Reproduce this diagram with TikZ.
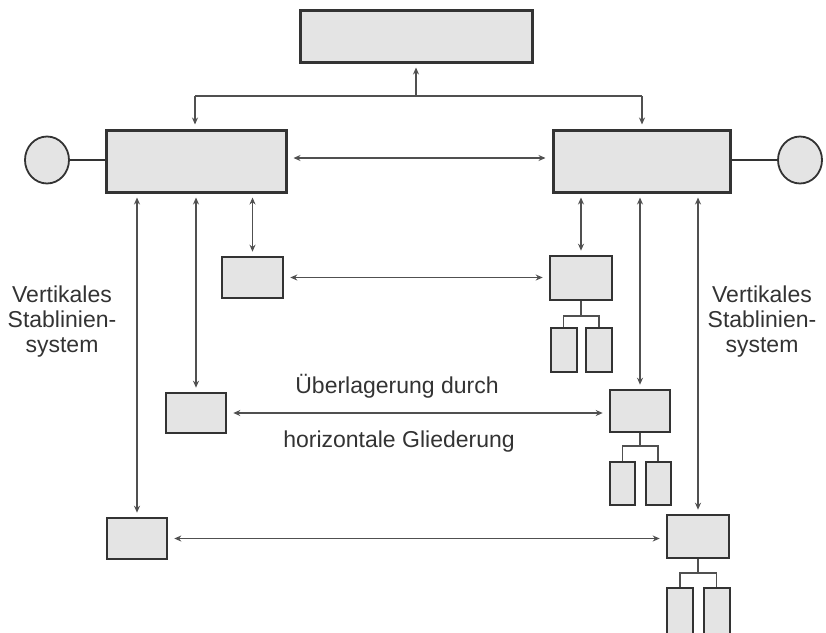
\documentclass[tikz,border=0pt]{standalone}
\usepackage{fontspec}
\setmainfont{Liberation Sans}
\usetikzlibrary{arrows.meta,shapes.geometric}
\definecolor{boxfill}{HTML}{E4E4E4}
\definecolor{boxline}{HTML}{333333}
\definecolor{conline}{HTML}{505050}
\definecolor{txt}{HTML}{333333}
\begin{document}
\begin{tikzpicture}[x=1pt,y=-1pt,
  bigbox/.style={draw=boxline,line width=3pt,fill=boxfill,inner sep=0pt,minimum width=#1},
  smallbox/.style={draw=boxline,line width=2.6pt,fill=boxfill,inner sep=0pt},
  childbox/.style={draw=boxline,line width=2pt,fill=boxfill,inner sep=0pt,minimum width=26pt,minimum height=44pt},
  con/.style={draw=conline,line width=1.4pt},
  arr/.style={con,{Stealth[length=7pt,width=6pt]}-{Stealth[length=7pt,width=6pt]},shorten >=4pt,shorten <=4pt},
  arrone/.style={con,-{Stealth[length=7pt,width=6pt]},shorten >=4pt},
  lbl/.style={text=txt,font=\fontsize{23}{25}\selectfont,inner sep=0pt,align=center,anchor=base}]
\useasboundingbox (0,0) rectangle (826,632);
\clip (0,0) rectangle (826,632);
\fill[white] (0,0) rectangle (826,632);
% main boxes
\node[bigbox=232pt,minimum height=52pt] (top) at (416,36) {};
\node[bigbox=180pt,minimum height=62pt] (LM) at (196,161) {};
\node[bigbox=177pt,minimum height=62pt] (RM) at (641.5,161) {};
% circles
\node[ellipse,draw=boxline,line width=1.8pt,fill=boxfill,minimum width=44pt,minimum height=47pt,inner sep=0pt] (LC) at (47,160) {};
\node[ellipse,draw=boxline,line width=1.8pt,fill=boxfill,minimum width=44pt,minimum height=47pt,inner sep=0pt] (RC) at (800,160) {};
\draw[draw=boxline,line width=2pt] (LC.east) -- (LM.west |- LC.east);
\draw[draw=boxline,line width=2pt] (RC.west) -- (RM.east |- RC.west);
% small boxes
\node[smallbox,minimum width=61pt,minimum height=41pt] (B1) at (252.5,277.5) {};
\node[smallbox,minimum width=60pt,minimum height=40pt] (B2) at (196,413) {};
\node[smallbox,minimum width=60pt,minimum height=41pt] (B3) at (137,538.5) {};
\node[smallbox,minimum width=62pt,minimum height=44pt] (R1) at (581,278) {};
\node[smallbox,minimum width=60pt,minimum height=42pt] (R2) at (640,411) {};
\node[smallbox,minimum width=62pt,minimum height=43pt] (R3) at (698,536.5) {};
% children
\node[childbox] (R1a) at (563.5,350) {};
\node[childbox] (R1b) at (599,350) {};
\node[childbox,minimum width=25pt,minimum height=43pt] (R2a) at (622.5,483.5) {};
\node[childbox,minimum width=25pt,minimum height=43pt] (R2b) at (658,483.5) {};
\node[childbox,minimum height=50pt] (R3a) at (680,613) {};
\node[childbox,minimum height=50pt] (R3b) at (716.5,613) {};
\draw[con] (R1.south) -- (R1.south |- 0,316) coordinate (R1j);
\draw[con] (R1a.north) |- (R1j) -| (R1b.north);
\draw[con] (R2.south) -- (R2.south |- 0,446) coordinate (R2j);
\draw[con] (R2a.north) |- (R2j) -| (R2b.north);
\draw[con] (R3.south) -- (R3.south |- 0,573) coordinate (R3j);
\draw[con] (R3a.north) |- (R3j) -| (R3b.north);
% top connections
\coordinate (J) at (top.south |- 0,96);
\coordinate (JL) at (LM.north -| 195,0);
\coordinate (JR) at (RM.north -| 642,0);
\draw[arrone] (J) -- (top.south);
\draw[con] (JL |- J) -- (JR |- J);
\draw[arrone] (JL |- J) -- (JL);
\draw[arrone] (JR |- J) -- (JR);
% main horizontal
\draw[arr,shorten >=6pt,shorten <=6pt] (LM.east |- 0,158) -- (RM.west |- 0,158);
% verticals
\draw[arr] (LM.south -| B1.north) -- (B1.north);
\draw[arr] (LM.south -| B2.north) -- (B2.north);
\draw[arr] (LM.south -| B3.north) -- (B3.north);
\draw[arr] (RM.south -| R1.north) -- (R1.north);
\draw[arr] (RM.south -| R2.north) -- (R2.north);
\draw[arr] (RM.south -| R3.north) -- (R3.north);
% horizontals
\draw[arr,shorten >=6pt,shorten <=6pt] (B1.east) -- (R1.west |- B1.east);
\draw[arr,shorten >=6pt,shorten <=6pt] (B2.east) -- (R2.west |- B2.east);
\draw[arr,shorten >=6pt,shorten <=6pt] (B3.east) -- (R3.west |- B3.east);
% labels
\node[lbl] (VL) at (62,352) {Vertikales\\Stablinien-\\system};
\node[lbl] (VR) at (762,352) {Vertikales\\Stablinien-\\system};
\node[lbl] (T1) at (397,393) {Überlagerung durch};
\node[lbl] (T2) at (399,447) {horizontale Gliederung};
\end{tikzpicture}
\end{document}
